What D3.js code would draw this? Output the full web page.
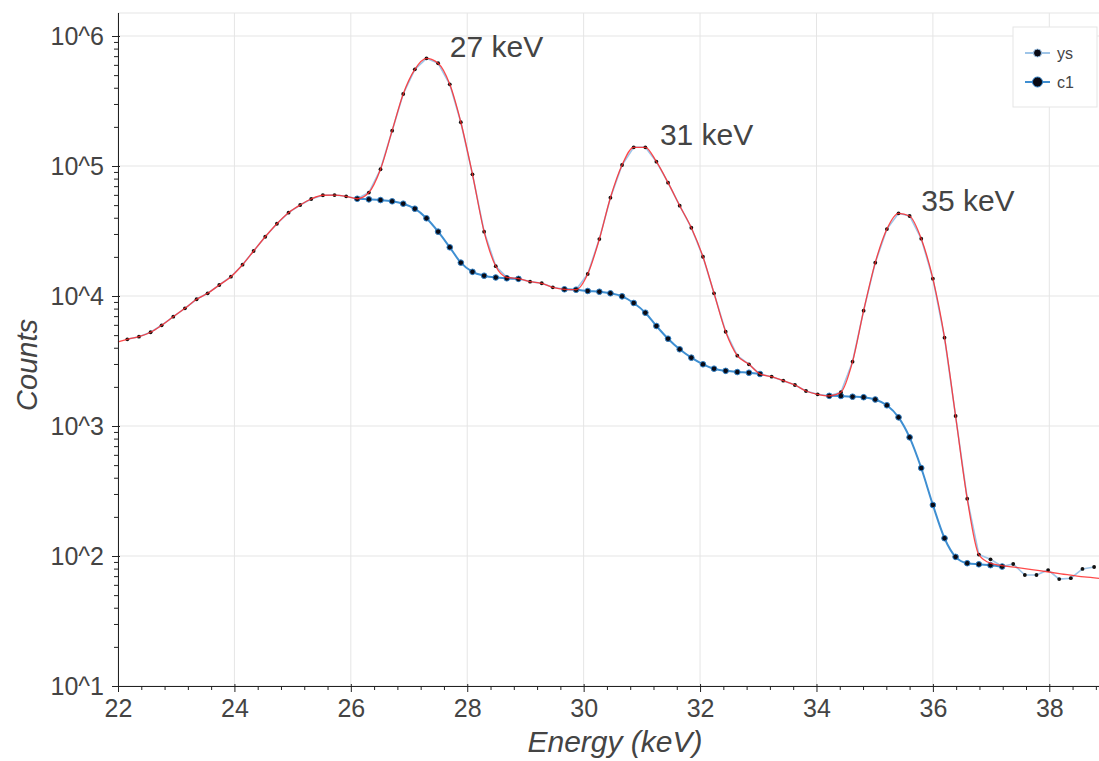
<!DOCTYPE html>
<html>
<head>
<meta charset="utf-8">
<script src="https://cdn.jsdelivr.net/npm/d3@7"></script>
<style>
  body { margin: 0; background: white; }
  svg { display: block; }
  text { font-family: "Liberation Sans", Arial, sans-serif; }
</style>
</head>
<body>
<div id="chart"></div>
<script>
// DATA - spectrum channels (keV)
const energy = [22.16, 22.36, 22.56, 22.75, 22.95, 23.15, 23.35, 23.54, 23.74, 23.94,
  24.14, 24.33, 24.53, 24.73, 24.93, 25.13, 25.32, 25.52, 25.72, 25.92,
  26.11, 26.31, 26.51, 26.71, 26.90, 27.10, 27.30, 27.50, 27.70, 27.89,
  28.09, 28.29, 28.49, 28.68, 28.88, 29.08, 29.28, 29.47, 29.67, 29.87,
  30.07, 30.27, 30.46, 30.66, 30.86, 31.06, 31.25, 31.45, 31.65, 31.85,
  32.05, 32.24, 32.44, 32.64, 32.84, 33.03, 33.23, 33.43, 33.63, 33.82,
  34.02, 34.22, 34.42, 34.62, 34.81, 35.01, 35.21, 35.41, 35.60, 35.80,
  36.00, 36.20, 36.39, 36.59, 36.79, 36.99, 37.19, 37.38, 37.58, 37.78,
  37.98, 38.17, 38.37, 38.57, 38.77]

// measured counts
const ys = [4645, 4864, 5260, 5953, 6930, 8040, 9440, 10490, 12150, 14070,
  17410, 22190, 28570, 35970, 43740, 50120, 55720, 59550, 59800, 58480,
  56000, 62500, 94400, 187000, 358000, 554000, 673000, 617000, 425000, 217000,
  86300, 31250, 16950, 13930, 13590, 12900, 12530, 11670, 11260, 11180,
  14760, 27420, 57040, 101800, 139300, 139300, 107900, 74450, 49500, 33500,
  20050, 10490, 5310, 3474, 2983, 2512, 2394, 2230, 2067, 1859,
  1753, 1706, 1820, 3125, 7710, 18050, 32750, 43250, 41250, 27600,
  13590, 4780, 1194, 276, 102.5, 94.3, 83, 86.8, 71.4, 71.4,
  78, 66.4, 67.5, 79.5, 82.3]

// continuum under the peaks (null = not computed)
const c1 = [null, null, null, null, null, null, null, null, null, null,
  null, null, null, null, null, null, null, null, null, null,
  56000, 55400, 54700, 53500, 51300, 46950, 39600, 31250, 23700, 18050,
  15340, 14330, 13880, 13680, 13550, null, null, null, 11260, 11180,
  10930, 10790, 10490, 9940, 8840, 7440, 5880, 4695, 3890, 3355,
  2983, 2760, 2656, 2600, 2570, 2512, null, null, null, null,
  null, 1706, 1702, 1681, 1665, 1600, 1443, 1166, 818, 475,
  247, 137, 98.5, 88, 86.3, 85, 83, null, null, null,
  null, null, null, null, null]

// fit curve: left end, then through ys up to 36.79 keV, then smooth tail
const fitStart = {e: 22.0, v: 4430}
const fitTailEnergy = [36.99, 37.4, 37.8, 38.2, 38.6, 38.86]
const fitTailCounts = [88, 82, 77.5, 73, 69, 67.3]
const fitThroughIndex = 74

const peakLabels = ["27 keV", "31 keV", "35 keV"]
const peakLabelEnergy = [27.70, 31.31, 35.80]
const peakLabelCounts = [689000, 145000, 45000]

const yMajorTicks = [10, 100, 1000, 10000, 100000, 1000000]
const xMajorTicks = [22, 24, 26, 28, 30, 32, 34, 36, 38]

// CONSTANTS
const width = 1099
const height = 761
const margin = {top: 13, right: 0, bottom: 75, left: 118}

// SCALES
const xScale = d3.scaleLinear()
  .domain([22, 38.854])
  .range([margin.left, width - margin.right])

const yScale = d3.scaleLog()
  .domain([10, 1.503e6])
  .range([height - margin.bottom, margin.top])

// SVG
const svg = d3.select("#chart")
  .append("svg")
  .attr("width", width)
  .attr("height", height)

const plotBottom = height - margin.bottom

// GRID
svg.append("g")
  .selectAll("line")
  .data(xMajorTicks)
  .join("line")
  .attr("x1", d => xScale(d)).attr("x2", d => xScale(d))
  .attr("y1", margin.top).attr("y2", plotBottom)
  .attr("stroke", "#e5e5e5")

svg.append("g")
  .selectAll("line")
  .data(yMajorTicks)
  .join("line")
  .attr("x1", margin.left).attr("x2", width)
  .attr("y1", d => yScale(d)).attr("y2", d => yScale(d))
  .attr("stroke", "#e5e5e5")

// outline top
svg.append("line")
  .attr("x1", margin.left).attr("x2", width)
  .attr("y1", margin.top).attr("y2", margin.top)
  .attr("stroke", "#e5e5e5")

// LINES
const pts = energy.map((e, i) => ({e: e, ys: ys[i], c1: c1[i]}))

const ysLine = d3.line()
  .x(d => xScale(d.e))
  .y(d => yScale(d.ys))

svg.append("path")
  .datum(pts)
  .attr("d", ysLine)
  .attr("fill", "none")
  .attr("stroke", "#9fc5e8")
  .attr("stroke-width", 1.6)

const c1Line = d3.line()
  .defined(d => d.c1 != null)
  .x(d => xScale(d.e))
  .y(d => yScale(d.c1))
  .curve(d3.curveMonotoneX)

svg.append("path")
  .datum(pts)
  .attr("d", c1Line)
  .attr("fill", "none")
  .attr("stroke", "#3f8fd2")
  .attr("stroke-width", 2)

// c1 markers
svg.append("g")
  .selectAll("circle")
  .data(pts.filter(d => d.c1 != null))
  .join("circle")
  .attr("cx", d => xScale(d.e))
  .attr("cy", d => yScale(d.c1))
  .attr("r", 2.8)
  .attr("fill", "#0a0a14")
  .attr("stroke", "#2f7fc4")
  .attr("stroke-width", 1)

// ys markers
svg.append("g")
  .selectAll("circle")
  .data(pts)
  .join("circle")
  .attr("cx", d => xScale(d.e))
  .attr("cy", d => yScale(d.ys))
  .attr("r", 1.9)
  .attr("fill", "#111")

// fit curve
const fit = [fitStart]
  .concat(pts.slice(0, fitThroughIndex + 1).map(d => ({e: d.e, v: d.ys})))
  .concat(fitTailEnergy.map((e, i) => ({e: e, v: fitTailCounts[i]})))

svg.append("path")
  .datum(fit)
  .attr("d", d3.line().x(d => xScale(d.e)).y(d => yScale(d.v)).curve(d3.curveMonotoneX))
  .attr("fill", "none")
  .attr("stroke", "#ff2a2a")
  .attr("stroke-opacity", 0.85)
  .attr("stroke-width", 1.3)

// AXES
const yAxis = d3.axisLeft(yScale)
  .tickValues(yMajorTicks)
  .tickSize(6)
  .tickPadding(8)
  .tickFormat(d => "10^" + Math.round(Math.log10(d)))

const yMinor = []
yMajorTicks.forEach(t => { for (let k = 2; k < 10; k++) if (t * k < 1.503e6) yMinor.push(t * k) })

const yAxisGroup = svg.append("g")
  .attr("transform", `translate(${margin.left}, 0)`)
  .call(yAxis)

svg.append("g")
  .attr("transform", `translate(${margin.left}, 0)`)
  .call(d3.axisLeft(yScale).tickValues(yMinor).tickSize(4).tickFormat(""))
  .call(g => g.select(".domain").remove())

yAxisGroup.select(".domain").attr("d", `M0.5,${margin.top}V${plotBottom}`)
yAxisGroup.selectAll(".tick line").attr("x1", 2)

const xMinor = d3.range(22, 38.86, 0.4).filter(d => Math.abs(d / 2 - Math.round(d / 2)) > 0.01)

const xAxis = d3.axisBottom(xScale)
  .tickValues(xMajorTicks)
  .tickSize(6)
  .tickPadding(7)

const xAxisGroup = svg.append("g")
  .attr("transform", `translate(0, ${plotBottom})`)
  .call(xAxis)

xAxisGroup.select(".domain").attr("d", `M${margin.left},0.5H${width}`)
xAxisGroup.selectAll(".tick line").attr("y1", -2)

svg.append("g")
  .attr("transform", `translate(0, ${plotBottom})`)
  .call(d3.axisBottom(xScale).tickValues(xMinor).tickSize(4).tickFormat(""))
  .call(g => g.select(".domain").remove())

svg.selectAll(".domain, .tick line").attr("stroke", "#222")

svg.selectAll(".tick text")
  .attr("fill", "#444")
  .style("font-size", "25px")
  .style("font-family", "Liberation Sans, Arial, sans-serif")

// axis titles
svg.append("text")
  .attr("x", 615)
  .attr("y", 752)
  .attr("text-anchor", "middle")
  .attr("fill", "#444")
  .style("font-size", "30px")
  .style("font-style", "italic")
  .text("Energy (keV)")

svg.append("text")
  .attr("transform", "translate(37, 365) rotate(-90)")
  .attr("text-anchor", "middle")
  .attr("fill", "#444")
  .style("font-size", "29px")
  .style("font-style", "italic")
  .text("Counts")

// peak labels
svg.append("g")
  .selectAll("text")
  .data(peakLabels)
  .join("text")
  .attr("x", (d, i) => xScale(peakLabelEnergy[i]))
  .attr("y", (d, i) => yScale(peakLabelCounts[i]))
  .attr("fill", "#444")
  .style("font-size", "30px")
  .text(d => d)

// LEGEND
const legendItems = [
  {name: "ys", line: "#9fc5e8", r: 4, stroke: "#9fc5e8"},
  {name: "c1", line: "#3f8fd2", r: 5, stroke: "#2f7fc4"}
]

const legend = svg.append("g").attr("transform", "translate(1013, 27)")

legend.append("rect")
  .attr("width", 84)
  .attr("height", 80)
  .attr("fill", "white")
  .attr("stroke", "#e5e5e5")

const item = legend.selectAll(".item")
  .data(legendItems)
  .join("g")
  .attr("transform", (d, i) => `translate(0, ${26 + i * 29})`)

item.append("line")
  .attr("x1", 12).attr("x2", 37)
  .attr("stroke", d => d.line)
  .attr("stroke-width", 2)

item.append("circle")
  .attr("cx", 24.5)
  .attr("r", d => d.r)
  .attr("fill", "#0a0a14")
  .attr("stroke", d => d.stroke)
  .attr("stroke-width", 1)

item.append("text")
  .attr("x", 44)
  .attr("dy", "0.35em")
  .attr("fill", "#444")
  .style("font-size", "16px")
  .text(d => d.name)
</script>
</body>
</html>
